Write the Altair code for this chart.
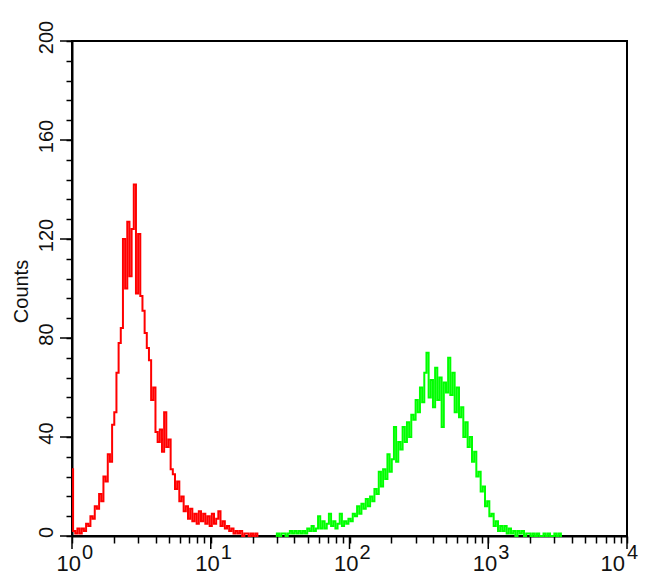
import altair as alt
import pandas as pd

# Flow cytometry histogram: 256 display channels over 4 decades (64 per decade)
CH_PER_DECADE = 64

red_start = 0
red_counts = [27, 2, 1, 3, 1, 3, 2, 5, 4, 8, 7, 12, 11, 17, 14, 24, 22, 33, 30, 45,
              50, 66, 78, 84, 120, 100, 127, 105, 124, 142, 98, 122, 97, 91, 82, 76,
              71, 55, 60, 42, 38, 43, 34, 50, 36, 39, 27, 25, 19, 22, 14, 16, 10, 12,
              7, 11, 6, 9, 5, 10, 6, 9, 5, 8, 4, 9, 5, 7, 10, 4, 6, 3, 4, 2, 3, 1, 2,
              1, 2, 0, 1, 1, 0, 1, 0, 1, 0]

green_start = 94
green_counts = [0, 1, 0, 1, 1, 0, 1, 2, 1, 2, 1, 2, 1, 2, 1, 3, 2, 4, 2, 3, 8, 3, 6,
                3, 5, 9, 4, 6, 3, 5, 9, 4, 6, 5, 7, 6, 9, 8, 12, 9, 13, 11, 15, 12, 16,
                14, 19, 17, 26, 20, 27, 23, 33, 26, 31, 44, 30, 38, 35, 44, 38, 46, 40,
                49, 47, 55, 50, 60, 54, 66, 74, 56, 63, 52, 68, 55, 64, 44, 62, 58, 72,
                57, 66, 50, 60, 48, 52, 40, 46, 36, 40, 30, 34, 24, 26, 18, 20, 12, 14,
                8, 9, 4, 6, 2, 4, 2, 4, 1, 3, 1, 2, 0, 2, 1, 2, 0, 1, 1, 0, 1, 0, 1, 0,
                0, 1, 0, 1, 0, 0, 1, 0, 1, 0]

decades = [1, 10, 100, 1000, 10000]
decade_base = ["10", "10", "10", "10", "10"]
decade_exp = ["0", "1", "2", "3", "4"]
x_ticks = [m * d for d in [1, 10, 100, 1000] for m in range(1, 10)] + [10000]
y_ticks = list(range(0, 201, 8))
y_major = [0, 40, 80, 120, 160, 200]

rows = []
for i, c in enumerate(red_counts):
    rows.append({"fl": 10 ** ((red_start + i) / CH_PER_DECADE), "count": c, "series": "red"})
for i, c in enumerate(green_counts):
    rows.append({"fl": 10 ** ((green_start + i) / CH_PER_DECADE), "count": c, "series": "green"})
df = pd.DataFrame(rows)

lab_df = pd.DataFrame({"fl": decades, "base": decade_base, "exp": decade_exp})
ymaj_df = pd.DataFrame({"count": y_major})

W, H = 555, 495
FONT = "Liberation Sans"
xs = alt.Scale(type="log", domain=[1, 10000], nice=False)
ys = alt.Scale(domain=[0, 200], nice=False, zero=True)

x_axis = alt.Axis(
    values=x_ticks, labels=False, tickSize=7, tickWidth=1.5, tickColor="black",
    domainColor="black", domainWidth=2, grid=False, title=None)
y_axis = alt.Axis(
    values=y_ticks, labelExpr="datum.value % 40 === 0 ? datum.label : ''",
    tickSize=6, tickWidth=1.5, tickColor="black", domainColor="black", domainWidth=2,
    labelAngle=-90, labelAlign="center", labelBaseline="alphabetic",
    labelPadding=14, labelOffset=-4, labelFont=FONT, labelFontSize=20,
    labelColor="#111", grid=False, title="Counts",
    titleFont=FONT, titleFontSize=20, titleFontWeight="normal",
    titleColor="#111", titleX=-45, titleY=250, titleBaseline="alphabetic",
    titleAlign="center", titleAngle=270)

X = alt.X("fl:Q", scale=xs, axis=x_axis, title=None)
Y = alt.Y("count:Q", scale=ys, axis=y_axis, title="Counts")

lines = alt.Chart(df).mark_line(strokeWidth=2, interpolate="step").encode(
    x=X, y=Y,
    color=alt.Color("series:N", scale=alt.Scale(domain=["red", "green"],
                                                range=["#ff0000", "#00ff00"]), legend=None),
    detail="series:N",
)

xmajor = alt.Chart(lab_df).mark_rule(color="black", strokeWidth=1.5).encode(
    x=X, y=alt.value(H), y2=alt.value(H + 13),
)

ymajor = alt.Chart(ymaj_df).mark_rule(color="black", strokeWidth=1.5).encode(
    y=Y, x=alt.value(-12), x2=alt.value(0),
)

base_txt = alt.Chart(lab_df).transform_filter("datum.fl < 10000").mark_text(
    align="right", baseline="alphabetic", font=FONT, fontSize=22, dx=9, color="#111"
).encode(x=X, y=alt.value(H + 35), text="base:N")

exp_txt = alt.Chart(lab_df).transform_filter("datum.fl < 10000").mark_text(
    align="left", baseline="alphabetic", font=FONT, fontSize=20, dx=10, color="#111"
).encode(x=X, y=alt.value(H + 23), text="exp:N")

base_last = alt.Chart(lab_df).transform_filter("datum.fl >= 10000").mark_text(
    align="right", baseline="alphabetic", font=FONT, fontSize=22, dx=-2, color="#111"
).encode(x=X, y=alt.value(H + 35), text="base:N")

exp_last = alt.Chart(lab_df).transform_filter("datum.fl >= 10000").mark_text(
    align="left", baseline="alphabetic", font=FONT, fontSize=20, dx=0, color="#111"
).encode(x=X, y=alt.value(H + 23), text="exp:N")

chart = alt.layer(lines, xmajor, ymajor, base_txt, exp_txt, base_last, exp_last).properties(
    width=W, height=H,
    autosize=alt.AutoSizeParams(type="none"),
    padding={"left": 64, "top": 33, "right": 15, "bottom": 41},
    background="white",
).configure_view(stroke="black", strokeWidth=2).configure_axisY(
    titleFont=FONT, titleFontSize=20, titleFontWeight="normal", titleColor="#111")

chart.save("out.html", embed_options={"renderer": "svg", "actions": False})
